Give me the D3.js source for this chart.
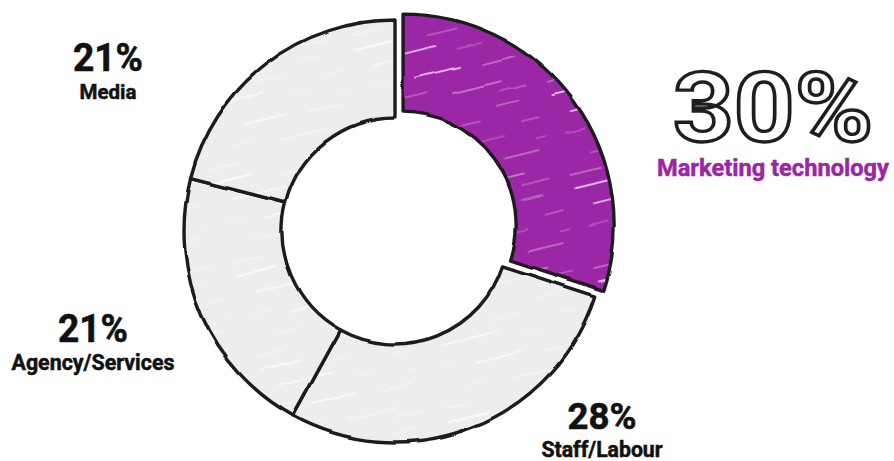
<!DOCTYPE html>
<html><head><meta charset="utf-8">
<script src="https://cdn.jsdelivr.net/npm/d3@7"></script>
<style>body{margin:0;background:#fff}svg{display:block}</style>
</head><body>
<svg id="chart" width="894" height="461"></svg>
<script>
const categories = ["Marketing technology", "Staff/Labour", "Agency/Services", "Media"];
const values = [30, 28, 21, 21];
const valueLabels = ["30%", "28%", "21%", "21%"];
const highlighted = ["Marketing technology"];

const W = 894, H = 461;
const cx = 395, cy = 231, rOuter = 211, rInner = 113, explode = 10;
const purple = "#9b26a6", grey = "#ededed", ink = "#1e1e1e";

const svg = d3.select("#chart");
const defs = svg.append("defs");

// hand-drawn wobble
const f = defs.append("filter").attr("id","rough").attr("x","-5%").attr("y","-5%").attr("width","110%").attr("height","110%");
f.append("feTurbulence").attr("type","fractalNoise").attr("baseFrequency","0.02").attr("numOctaves",2).attr("seed",3).attr("result","n");
f.append("feDisplacementMap").attr("in","SourceGraphic").attr("in2","n").attr("scale",4).attr("xChannelSelector","R").attr("yChannelSelector","G");

// sketchy hatch patterns (decorative texture tile)
const strokes = [
  [6,6,40,0.9,1.3],[70,14,30,0.5,0.9],[120,4,22,0.6,0.9],[20,26,55,0.8,1.5],[95,34,25,0.4,0.9],
  [140,24,18,0.5,0.9],[10,46,20,0.4,0.9],[48,52,45,0.85,1.4],[115,56,35,0.6,1.1],[150,44,10,0.4,0.9],
  [30,70,26,0.5,0.9],[80,76,50,0.7,1.2],[5,88,30,0.6,1.1],[125,86,28,0.5,0.9]
];
function hatch(id, base, op){
  const p = defs.append("pattern").attr("id",id).attr("patternUnits","userSpaceOnUse")
    .attr("width",170).attr("height",96).attr("patternTransform","rotate(-14)");
  p.append("rect").attr("width",170).attr("height",96).attr("fill",base);
  p.selectAll("line").data(strokes).join("line")
    .attr("x1",d=>d[0]).attr("y1",d=>d[1]).attr("x2",d=>d[0]+d[2]).attr("y2",d=>d[1])
    .attr("stroke","#fff").attr("stroke-width",d=>d[4]).attr("stroke-opacity",d=>d[3]*op)
    .attr("stroke-linecap","round");
}
hatch("hp", purple, 1);
hatch("hg", grey, 0.9);

const pie = d3.pie().value(d => d).sort(null);
const arcs = pie(values);
const arc = d3.arc().innerRadius(rInner).outerRadius(rOuter);

const g = svg.append("g").attr("transform",`translate(${cx},${cy})`).attr("filter","url(#rough)");
g.selectAll("path").data(arcs).join("path")
  .attr("d", arc)
  .attr("transform", (d,i) => {
    if (!highlighted.includes(categories[i])) return null;
    const a = (d.startAngle + d.endAngle)/2;
    return `translate(${Math.sin(a)*explode},${-Math.cos(a)*explode})`;
  })
  .attr("fill", (d,i) => highlighted.includes(categories[i]) ? "url(#hp)" : "url(#hg)")
  .attr("stroke", ink).attr("stroke-width", 3.4).attr("stroke-linejoin","round");

// labels
const font = "Roboto, 'Noto Sans', sans-serif";
const labelPos = [
  {x:773, y1:141, y2:176, s1:97, s2:23.5, w1:200, w2:232},
  {x:602, y1:429, y2:457, s1:37.5, s2:21.5, w1:69, w2:121},
  {x:93, y1:342, y2:370, s1:38, s2:21.5, w1:70, w2:163},
  {x:108, y1:71, y2:99, s1:38, s2:21, w1:70, w2:57}
];
const lg = svg.append("g");
categories.forEach((c,i) => {
  const p = labelPos[i];
  const big = highlighted.includes(c);
  const t1 = lg.append("text").attr("x",p.x).attr("y",p.y1).attr("text-anchor","middle")
    .attr("font-family",font).attr("font-weight",700).attr("font-size",p.s1)
    .attr("textLength",p.w1).attr("lengthAdjust","spacingAndGlyphs")
    .text(valueLabels[i]);
  if (big) t1.attr("fill","#fff").attr("stroke",ink).attr("stroke-width",3.4).attr("paint-order","fill");
  else t1.attr("fill","#111").attr("stroke","#111").attr("stroke-width",0.6);
  const col = big ? purple : "#111";
  lg.append("text").attr("x",p.x).attr("y",p.y2).attr("text-anchor","middle")
    .attr("font-family",font).attr("font-weight",700).attr("font-size",p.s2)
    .attr("textLength",p.w2).attr("lengthAdjust","spacingAndGlyphs")
    .attr("fill", col).attr("stroke", col).attr("stroke-width",0.5).text(c);
});
</script>
</body></html>
